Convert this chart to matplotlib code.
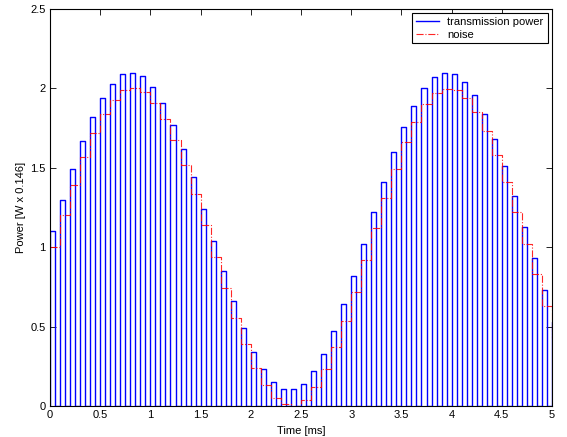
#! /usr/bin/env python3

import matplotlib
matplotlib.use('Agg')
import matplotlib.pyplot as plt
import numpy as np

# sample instants [ms], one pulse every 0.1 ms
times = np.round(np.arange(51) * 0.1, 2)

# transmitted power per slot [W x 0.146]
power = [1.10, 1.30, 1.49, 1.67, 1.82, 1.94, 2.03, 2.09, 2.10, 2.08,
         2.01, 1.91, 1.77, 1.62, 1.44, 1.24, 1.04, 0.85, 0.66, 0.49,
         0.34, 0.23, 0.15, 0.107, 0.107, 0.14, 0.22, 0.33, 0.47, 0.64,
         0.82, 1.02, 1.22, 1.41, 1.60, 1.76, 1.89, 2.00, 2.07, 2.10,
         2.09, 2.04, 1.96, 1.84, 1.68, 1.51, 1.32, 1.13, 0.93, 0.73,
         0.53]

# noise level per slot
noise = [1.00, 1.20, 1.39, 1.57, 1.72, 1.84, 1.93, 1.99, 2.00, 1.975,
         1.91, 1.81, 1.675, 1.52, 1.335, 1.14, 0.94, 0.74, 0.556, 0.39,
         0.24, 0.13, 0.05, 0.01, 0.0, 0.04, 0.12, 0.23, 0.37, 0.535,
         0.72, 0.92, 1.12, 1.31, 1.495, 1.66, 1.79, 1.90, 1.97, 1.995,
         1.99, 1.94, 1.85, 1.73, 1.58, 1.41, 1.22, 1.02, 0.83, 0.63,
         0.43]

pulse_width = 0.05

plt.rcParams['font.family'] = ['Liberation Sans', 'DejaVu Sans']
plt.rcParams['font.size'] = 8

# build the pulse train outline: up, across, down, rest at zero
px = []
py = []
for t, p in zip(times, power):
    px += [t, t, t + pulse_width, t + pulse_width]
    py += [0, p, p, 0]

fig = plt.figure(figsize=(5.67, 4.37), dpi=100)
ax = fig.add_axes([50 / 567, 31 / 437, 502 / 567, 397 / 437])

ax.plot(px, py, color='blue', linewidth=1.0, label='transmission power')
ax.step(times, noise, where='post', color='red', linestyle='-.',
        linewidth=0.8, alpha=0.85, label='noise')

ax.set_xlim(0, 5)
ax.set_ylim(0, 2.5)
ax.set_xticks(np.arange(0, 5.01, 0.5))
ax.set_yticks(np.arange(0, 2.51, 0.5))
ax.set_xticklabels(['0', '0.5', '1', '1.5', '2', '2.5', '3', '3.5', '4', '4.5', '5'])
ax.set_yticklabels(['0', '0.5', '1', '1.5', '2', '2.5'])
ax.tick_params(direction='in', top=True, right=True, length=4, width=0.6,
               pad=3, labelsize=8)
for s in ax.spines.values():
    s.set_linewidth(0.8)

ax.set_xlabel('Time [ms]', labelpad=4)
ax.set_ylabel('Power [W x 0.146]', labelpad=3)

leg = ax.legend(loc='upper right', fancybox=False, framealpha=1,
                edgecolor='black', borderaxespad=0.4, handlelength=2.0,
                borderpad=0.35, labelspacing=0.2, fontsize=8)
leg.get_frame().set_linewidth(0.8)

plt.savefig('out.png', dpi=100)
